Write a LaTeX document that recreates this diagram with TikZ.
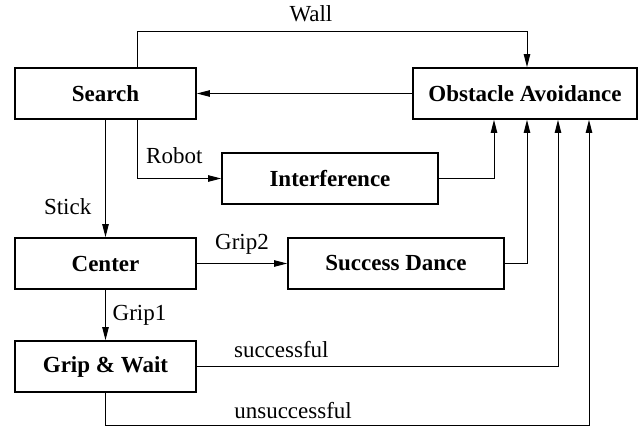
\documentclass[tikz,border=0pt]{standalone}
\usepackage{fontspec}
\setmainfont{Liberation Serif}
\usetikzlibrary{arrows.meta}

\begin{document}
\begin{tikzpicture}[x=0.5pt, y=-0.5pt]

\tikzstyle{state}=[rectangle, draw, line width=0.8pt, minimum height=25.5pt, inner sep=0pt, font=\fontsize{11.5}{13}\selectfont\bfseries]
\tikzstyle{arrow}=[-{Triangle[length=6.5pt,width=3.2pt]}, line width=0.5pt]
\tikzstyle{lbl}=[font=\fontsize{11.5}{13}\selectfont]

\useasboundingbox (0,0) rectangle (639,428);

\node (Search) [state, minimum width=90.5pt] at (105.5, 93.5) {Search};
\node (Obstacle) [state, minimum width=112pt] at (525, 93.5) {Obstacle Avoidance};
\node (Interference) [state, minimum width=108pt] at (330, 178.5) {Interference};
\node (Center) [state, minimum width=90.5pt] at (105.5, 263.5) {Center};
\node (Success) [state, minimum width=108pt] at (396, 263.5) {Success Dance};
\node (Grip) [state, minimum width=90.5pt] at (105.5, 366.5) {Grip \& Wait};

\draw [arrow] ([xshift=15.75pt]Search.north) -- ++(0,18pt) -| node[lbl, pos=0.223, above=1pt] {Wall} ([xshift=1pt]Obstacle.north);
\draw [arrow] (Obstacle.west) -- (Search.east);
\draw [arrow] ([xshift=15.75pt]Search.south) |- node[lbl, pos=0.5, anchor=south west, xshift=1pt, yshift=4pt] {Robot} (Interference.west);
\draw [arrow] (Interference.east) -| ([xshift=-15.5pt]Obstacle.south);
\draw [arrow] (Search.south) -- node[lbl, pos=0.74, left=3.5pt] {Stick} (Center.north);
\draw [arrow] (Center.east) -- node[lbl, above=1pt] {Grip2} (Success.west);
\draw [arrow] (Success.east) -| ([xshift=1pt]Obstacle.south);
\draw [arrow] (Center.south) -- node[lbl, right] {Grip1} (Grip.north);
\draw [arrow] (Grip.east) -| node[lbl, pos=0.117, above=1pt] {successful} ([xshift=16.5pt]Obstacle.south);
\draw [arrow] (Grip.south) -- ++(0,-16.5pt) -| node[lbl, pos=0.194, above] {unsuccessful} ([xshift=32pt]Obstacle.south);

\end{tikzpicture}
\end{document}
